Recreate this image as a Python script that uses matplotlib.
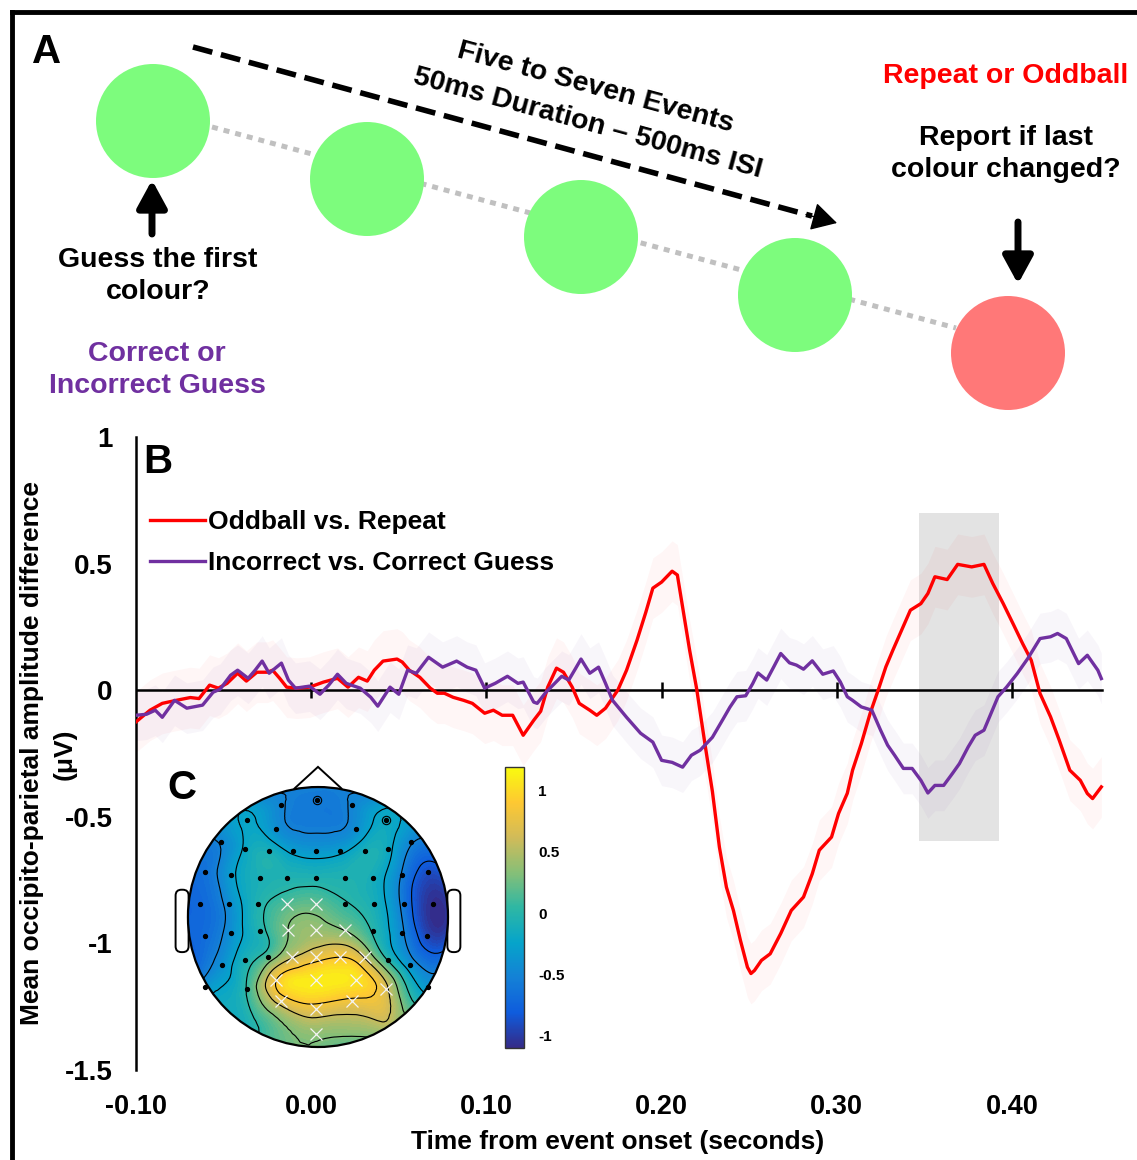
import numpy as np
import matplotlib
matplotlib.use("Agg")
import matplotlib.pyplot as plt
import matplotlib.tri as mtri
from matplotlib.cm import ScalarMappable
from matplotlib.colors import LinearSegmentedColormap, Normalize
from matplotlib.patches import Circle, Polygon, FancyBboxPatch, Rectangle

plt.rcParams['font.family'] = ['Liberation Sans', 'DejaVu Sans']
plt.rcParams['font.weight'] = 'bold'

W, H = 1137, 1160

# --- difference waves (time in s, amplitude in microvolts) ---
odd_t = [-0.100, -0.092, -0.085, -0.077, -0.069, -0.064, -0.058, -0.053, -0.048, -0.042,
         -0.037, -0.031, -0.025, -0.022, -0.018, -0.014, -0.008, -0.001, 0.007, 0.015,
         0.021, 0.027, 0.032, 0.036, 0.041, 0.049, 0.052, 0.056, 0.062, 0.068,
         0.072, 0.076, 0.081, 0.087, 0.092, 0.099, 0.104, 0.109, 0.115, 0.121,
         0.127, 0.131, 0.135, 0.140, 0.144, 0.149, 0.153, 0.159, 0.163, 0.168,
         0.175, 0.180, 0.186, 0.191, 0.195, 0.200, 0.206, 0.209, 0.212, 0.216,
         0.220, 0.225, 0.229, 0.233, 0.237, 0.241, 0.245, 0.249, 0.251, 0.253,
         0.257, 0.262, 0.268, 0.274, 0.281, 0.286, 0.290, 0.297, 0.301, 0.306,
         0.309, 0.314, 0.319, 0.324, 0.328, 0.332, 0.337, 0.342, 0.348, 0.352,
         0.356, 0.363, 0.369, 0.377, 0.384, 0.389, 0.395, 0.401, 0.406, 0.411,
         0.416, 0.422, 0.427, 0.433, 0.439, 0.443, 0.446, 0.451]
odd_amp = [-0.125, -0.079, -0.052, -0.040, -0.029, -0.033, 0.020, 0.008, 0.027, 0.067,
           0.036, 0.071, 0.071, 0.079, 0.047, 0.012, 0.008, 0.012, 0.032, 0.047,
           0.012, 0.051, 0.036, 0.079, 0.115, 0.123, 0.111, 0.079, 0.051, 0.008,
           -0.012, -0.012, -0.028, -0.040, -0.052, -0.091, -0.079, -0.099, -0.099, -0.178,
           -0.119, -0.083, 0.012, 0.087, 0.071, 0.012, -0.052, -0.079, -0.099, -0.071,
           0.000, 0.079, 0.198, 0.308, 0.403, 0.427, 0.470, 0.455, 0.328, 0.158,
           0.006, -0.224, -0.400, -0.620, -0.778, -0.870, -0.988, -1.094, -1.119, -1.107,
           -1.067, -1.041, -0.961, -0.870, -0.817, -0.725, -0.632, -0.580, -0.487, -0.407,
           -0.316, -0.211, -0.092, 0.008, 0.092, 0.158, 0.237, 0.316, 0.342, 0.382,
           0.448, 0.437, 0.497, 0.487, 0.497, 0.422, 0.342, 0.257, 0.185, 0.118,
           -0.013, -0.105, -0.198, -0.316, -0.356, -0.408, -0.428, -0.382]

guess_t = [-0.100, -0.094, -0.089, -0.085, -0.078, -0.071, -0.065, -0.062, -0.056, -0.052,
           -0.046, -0.042, -0.036, -0.032, -0.028, -0.024, -0.017, -0.013, -0.009, -0.001,
           0.005, 0.010, 0.015, 0.020, 0.028, 0.034, 0.038, 0.045, 0.050, 0.055,
           0.060, 0.067, 0.075, 0.083, 0.089, 0.094, 0.099, 0.105, 0.112, 0.118,
           0.121, 0.127, 0.129, 0.134, 0.139, 0.143, 0.147, 0.151, 0.154, 0.159,
           0.164, 0.168, 0.172, 0.180, 0.188, 0.195, 0.200, 0.206, 0.212, 0.217,
           0.222, 0.229, 0.235, 0.239, 0.243, 0.248, 0.252, 0.255, 0.260, 0.264,
           0.268, 0.273, 0.277, 0.281, 0.286, 0.292, 0.298, 0.302, 0.306, 0.309,
           0.314, 0.320, 0.325, 0.329, 0.333, 0.338, 0.343, 0.348, 0.352, 0.356,
           0.361, 0.366, 0.370, 0.375, 0.379, 0.384, 0.388, 0.392, 0.397, 0.403,
           0.409, 0.416, 0.422, 0.426, 0.431, 0.438, 0.443, 0.449, 0.451]
guess_amp = [-0.099, -0.095, -0.079, -0.107, -0.040, -0.071, -0.063, -0.059, -0.008, 0.004,
             0.059, 0.079, 0.047, 0.079, 0.115, 0.067, 0.107, 0.040, 0.008, 0.016,
             -0.016, 0.020, 0.063, 0.027, 0.008, -0.028, -0.063, 0.012, -0.016, 0.079,
             0.067, 0.130, 0.091, 0.115, 0.091, 0.079, 0.008, 0.027, 0.055, 0.027,
             0.032, -0.047, -0.052, -0.008, 0.027, 0.055, 0.040, 0.087, 0.123, 0.067,
             0.091, 0.027, -0.040, -0.107, -0.170, -0.205, -0.277, -0.285, -0.304, -0.257,
             -0.237, -0.186, -0.115, -0.067, -0.026, -0.022, 0.026, 0.068, 0.040, 0.092,
             0.145, 0.108, 0.099, 0.083, 0.116, 0.063, 0.076, 0.033, -0.026, -0.040,
             -0.066, -0.079, -0.158, -0.217, -0.257, -0.309, -0.309, -0.356, -0.406, -0.376,
             -0.376, -0.329, -0.290, -0.224, -0.178, -0.158, -0.092, -0.026, 0.013, 0.066,
             0.125, 0.204, 0.211, 0.224, 0.204, 0.105, 0.138, 0.079, 0.046]

odd_sem = 0.12
guess_sem = 0.10

# analysis window (s) and its vertical extent (µV)
win_t = [0.347, 0.3925]
win_amp = [-0.595, 0.70]

xticks = [-0.10, 0.00, 0.10, 0.20, 0.30, 0.40]
xtick_labels = ['-0.10', '0.00', '0.10', '0.20', '0.30', '0.40']
yticks = [1, 0.5, 0, -0.5, -1, -1.5]
ytick_labels = ['1', '0.5', '0', '-0.5', '-1', '-1.5']

# --- scalp map: electrode positions (unit head radius) and values ---
dot_x = [-0.287, -0.005, 0.262, -0.544, -0.321, 0.295, 0.526,
         -0.744, -0.564, -0.379, -0.192, -0.013, 0.172, 0.359, 0.538, 0.718,
         -0.872, -0.672, -0.449, -0.236, -0.013, 0.205, 0.423, 0.646, 0.846,
         -0.910, -0.687, -0.462, 0.205, 0.428, 0.662, 0.885,
         -0.867, -0.672, -0.449, 0.423, 0.646, 0.841,
         -0.738, -0.564, -0.385, 0.538, 0.710,
         -0.544, -0.872, 0.846]
dot_y = [0.864, 0.897, 0.864, 0.744, 0.679, 0.679, 0.744,
         0.577, 0.526, 0.508, 0.508, 0.508, 0.508, 0.508, 0.526, 0.577,
         0.346, 0.321, 0.303, 0.300, 0.300, 0.300, 0.303, 0.321, 0.346,
         0.097, 0.097, 0.097, 0.097, 0.097, 0.097, 0.097,
         -0.146, -0.123, -0.108, -0.108, -0.123, -0.146,
         -0.372, -0.328, -0.308, -0.328, -0.372,
         -0.551, -0.538, -0.538]
dot_val = [-0.50, -0.58, -0.50, -0.22, -0.42, -0.42, -0.18,
           -0.50, -0.22, -0.10, -0.30, -0.35, -0.30, -0.10, -0.18, -0.50,
           -0.65, -0.32, -0.08, -0.05, -0.05, -0.05, -0.12, -0.55, -0.90,
           -0.72, -0.45, -0.05, 0.05, -0.10, -0.62, -1.08,
           -0.68, -0.42, -0.05, 0.00, -0.48, -0.95,
           -0.40, -0.10, 0.15, 0.00, -0.38,
           0.05, -0.40, -0.35]

clus_x = [-0.238, -0.013, -0.231, -0.013, 0.205, -0.197, -0.013, 0.172, 0.359,
          -0.321, -0.013, 0.295, 0.521, -0.282, -0.013, 0.262, -0.013]
clus_y = [0.097, 0.097, -0.097, -0.103, -0.103, -0.308, -0.308, -0.308, -0.308,
          -0.487, -0.487, -0.487, -0.551, -0.646, -0.705, -0.646, -0.903]
clus_val = [0.15, 0.20, 0.30, 0.40, 0.30, 0.55, 0.75, 0.85, 0.55,
            0.85, 1.10, 1.05, 0.65, 0.70, 0.75, 0.80, 0.35]

rim_angle = [0, 30, 60, 90, 120, 150, 180, 210, 240, 270, 300, 330]
rim_val = [-0.95, -0.60, -0.40, -0.50, -0.40, -0.55, -0.72, -0.52, -0.05, 0.25, 0.35, -0.35]

marked_x = [-0.005, 0.526]
marked_y = [0.897, 0.744]

topo_vmin, topo_vmax = -1.1, 1.19
contour_levels = [-0.8, -0.525, -0.25, 0.025, 0.3, 0.575, 0.85]
cbar_ticks = [1, 0.5, 0, -0.5, -1]
cbar_labels = ['1', '0.5', '0', '-0.5', '-1']

parula = LinearSegmentedColormap.from_list(
    'parula', ['#352a87', '#0f5cdd', '#1481d6', '#06a4ca', '#2eb7a4',
               '#87bf77', '#d1bb59', '#fec832', '#f9fb0e'])

RED = '#ff0000'
PURPLE = '#7030a0'

fig = plt.figure(figsize=(W / 100, H / 100), dpi=100)

# ---------------- panel A: trial schematic (pixel coordinates) ----------------
ax_a = fig.add_axes([0, 0, 1, 1])
ax_a.set_xlim(0, W)
ax_a.set_ylim(H, 0)
ax_a.axis('off')

# frame
ax_a.plot([12, 12], [H, 12], color='k', lw=3.5, solid_capstyle='projecting')
ax_a.plot([12, W], [12, 12], color='k', lw=3.5, solid_capstyle='projecting')

ax_a.text(47, 52, 'A', fontsize=29, ha='center', va='center')

# dotted link between the events
ax_a.plot([212, 956], [127, 328], color='#c0c0c0', lw=3.6, ls=(0, (1.2, 1.2)), zorder=1)

centres = [(153, 121), (367, 179), (581, 237), (795, 295), (1008, 353)]
fills = ['#7dfc7d', '#7dfc7d', '#7dfc7d', '#7dfc7d', '#ff7878']
for (cx, cy), fc in zip(centres, fills):
    ax_a.add_patch(Circle((cx, cy), 57, fc=fc, ec='none', zorder=2))

# dashed sequence arrow
ax_a.plot([193, 812], [47, 216], color='k', lw=4, ls=(0, (3.6, 1.6)))
ax_a.annotate('', xy=(837, 223), xytext=(806, 214.5),
              arrowprops=dict(arrowstyle='-|>,head_length=0.5,head_width=0.28',
                              color='k', lw=1, mutation_scale=32,
                              shrinkA=0, shrinkB=0))
ax_a.text(595, 88, 'Five to Seven Events', fontsize=20.5, rotation=-15.2,
          ha='center', va='center')
ax_a.text(588, 123, '50ms Duration \u2013 500ms ISI', fontsize=20.5, rotation=-15.2,
          ha='center', va='center')

# response arrows
ax_a.annotate('', xy=(152, 180), xytext=(152, 234),
              arrowprops=dict(arrowstyle='-|>,head_length=0.55,head_width=0.3',
                              color='k', lw=5, mutation_scale=30,
                              shrinkA=0, shrinkB=0))
ax_a.annotate('', xy=(1018, 284), xytext=(1018, 222),
              arrowprops=dict(arrowstyle='-|>,head_length=0.55,head_width=0.3',
                              color='k', lw=5, mutation_scale=30,
                              shrinkA=0, shrinkB=0))

ax_a.text(158, 276, 'Guess the first\ncolour?', fontsize=20.5, ha='center',
          va='center', linespacing=1.3)
ax_a.text(157, 370, 'Correct or\nIncorrect Guess', fontsize=20.5, ha='center',
          va='center', linespacing=1.3, color=PURPLE)
ax_a.text(1006, 76, 'Repeat or Oddball', fontsize=20.5, ha='center',
          va='center', color=RED)
ax_a.text(1006, 154, 'Report if last\ncolour changed?', fontsize=20.5,
          ha='center', va='center', linespacing=1.3)

# ---------------- panel B: difference waves ----------------
ax = fig.add_axes([136 / W, (H - 1070) / H, (1108 - 136) / W, (1070 - 437) / H])
ax.patch.set_alpha(0)
ax.set_xlim(-0.1, 0.4548)
ax.set_ylim(-1.5, 1.0)
for side in ['top', 'right', 'bottom']:
    ax.spines[side].set_visible(False)
ax.spines['left'].set_linewidth(1.8)

ax.add_patch(Rectangle((win_t[0], win_amp[0]), win_t[1] - win_t[0],
                       win_amp[1] - win_amp[0], fc='#e3e3e3', ec='none', zorder=1))

odd_t_arr, odd_arr = np.array(odd_t), np.array(odd_amp)
guess_t_arr, guess_arr = np.array(guess_t), np.array(guess_amp)
ax.fill_between(odd_t_arr, odd_arr - odd_sem, odd_arr + odd_sem,
                color=RED, alpha=0.035, lw=0, zorder=2)
ax.fill_between(guess_t_arr, guess_arr - guess_sem, guess_arr + guess_sem,
                color=PURPLE, alpha=0.045, lw=0, zorder=2)

ax.plot([-0.1, 0.4514], [0, 0], color='k', lw=1.8, zorder=2.5)
ax.plot(xticks[1:], [0] * (len(xticks) - 1), ls='none', marker='|', ms=11.5,
        mew=1.8, color='k', zorder=2.5)

ax.plot(odd_t_arr, odd_arr, color=RED, lw=2.4, zorder=3,
        label='Oddball vs. Repeat', solid_joinstyle='round')
ax.plot(guess_t_arr, guess_arr, color=PURPLE, lw=2.4, zorder=3,
        label='Incorrect vs. Correct Guess', solid_joinstyle='round')

ax.set_xticks(xticks, xtick_labels)
ax.set_yticks(yticks, ytick_labels)
ax.tick_params(axis='x', length=0, pad=17, labelsize=19.5)
ax.tick_params(axis='y', length=0, pad=17, labelsize=20)

ax.legend(loc='upper left', bbox_to_anchor=(150 / W, 1 - 510 / H),
          bbox_transform=fig.transFigure, frameon=False, borderpad=0,
          borderaxespad=0, handlelength=2.08, handletextpad=0.12,
          labelspacing=0.66, prop={'weight': 'bold', 'size': 19})

fig.text(618 / W, 1 - 1142 / H, 'Time from event onset (seconds)', fontsize=19,
         ha='center', va='center')
fig.text(32 / W, 1 - 753 / H, 'Mean occipito-parietal amplitude difference',
         fontsize=19, rotation=90, ha='center', va='center')
fig.text(65 / W, 1 - 754 / H, '(\u03bcV)', fontsize=19, rotation=90,
         ha='center', va='center')
fig.text(158 / W, 1 - 462 / H, 'B', fontsize=29, ha='center', va='center')

# ---------------- panel C: scalp topography ----------------
ax_c = fig.add_axes([170 / W, 1 - 1060 / H, 300 / W, 300 / H])
ax_c.set_xlim(-1.138, 1.169)
ax_c.set_ylim(-1.1, 1.208)
ax_c.axis('off')

rim_r = 1.06
rim_x = [rim_r * np.cos(np.radians(a)) for a in rim_angle]
rim_y = [rim_r * np.sin(np.radians(a)) for a in rim_angle]
all_x = np.array(dot_x + clus_x + rim_x)
all_y = np.array(dot_y + clus_y + rim_y)
all_v = np.array(dot_val + clus_val + rim_val)

triang = mtri.Triangulation(all_x, all_y)
tri_fine, v_fine = mtri.UniformTriRefiner(triang).refine_field(all_v, subdiv=3)
norm = Normalize(vmin=topo_vmin, vmax=topo_vmax)
head = Circle((0, 0), 1, transform=ax_c.transData)

ax_c.add_patch(Polygon([(-0.185, 0.985), (0, 1.155), (0.185, 0.985)], closed=True,
                       fc='white', ec='k', lw=1.4, zorder=1))
for ex in [-1.095, 0.995]:
    ax_c.add_patch(FancyBboxPatch((ex, -0.27), 0.1, 0.48,
                                  boxstyle='round,pad=0,rounding_size=0.045',
                                  fc='white', ec='k', lw=1.4, zorder=1))

cf = ax_c.tricontourf(tri_fine, v_fine, levels=np.linspace(topo_vmin, topo_vmax, 64),
                      cmap=parula, norm=norm, extend='both', zorder=2)
cf.set_clip_path(head)
cl = ax_c.tricontour(tri_fine, v_fine, levels=contour_levels, colors='k',
                     linewidths=0.8, linestyles='solid', zorder=3)
cl.set_clip_path(head)
ax_c.add_patch(Circle((0, 0), 1, fill=False, ec='k', lw=1.6, zorder=5))

ax_c.plot(dot_x[:-2], dot_y[:-2], ls='none', marker='o', ms=2.8, color='k', zorder=4)
ax_c.plot(dot_x[-2:], dot_y[-2:], ls='none', marker='o', ms=2.8, color='k', zorder=6)
ax_c.plot(clus_x, clus_y, ls='none', marker='x', ms=8, mew=0.9, color='#f4f4f4', zorder=4)
ax_c.plot(marked_x, marked_y, ls='none', marker='o', ms=6, mfc='none', mec='k',
          mew=0.8, zorder=4)

fig.text(182 / W, 1 - 788 / H, 'C', fontsize=29, ha='center', va='center')

cax = fig.add_axes([505 / W, 1 - 1048 / H, 19 / W, 281 / H])
cb = fig.colorbar(ScalarMappable(norm=norm, cmap=parula), cax=cax, ticks=cbar_ticks)
cb.set_ticklabels(cbar_labels)
cb.ax.tick_params(length=0, labelsize=11, pad=10)
cb.outline.set_linewidth(1.0)
cb.outline.set_edgecolor('#333333')

fig.savefig('out.png', dpi=100)
